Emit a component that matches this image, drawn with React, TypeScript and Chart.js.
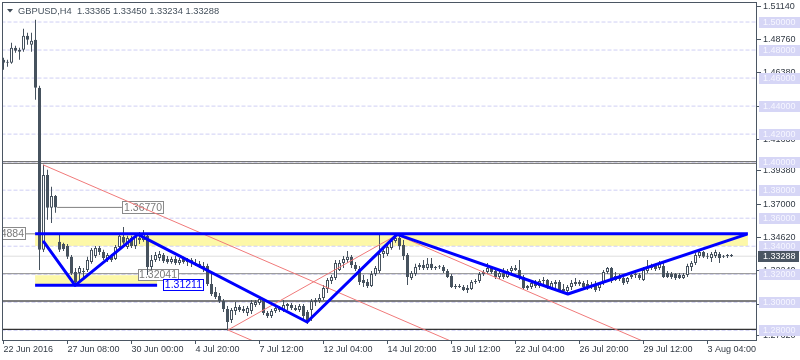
import React, { useEffect, useRef } from "react";
import { Chart, registerables } from "chart.js";

Chart.register(...registerables);

const symbol = "GBPUSD";
const timeframe = "H4";

// H4 candles, bar index 0 .. 182
const opens = [
  1.4731, 1.4709, 1.4709, 1.4816, 1.4802, 1.4802, 1.4902, 1.4838, 1.4874, 1.4531, // 0
  1.3374, 1.3909, 1.3674, 1.3759, 1.3431, 1.3416, 1.3402, 1.3324, 1.3216, 1.3209, // 10
  1.3216, 1.3231, 1.3288, 1.3331, 1.3388, 1.3359, 1.3309, 1.3338, 1.3309, 1.3395, // 20
  1.3466, 1.3395, 1.3459, 1.3402, 1.3459, 1.3445, 1.3474, 1.3252, 1.3302, 1.3316, // 30
  1.3338, 1.3309, 1.3288, 1.3309, 1.3281, 1.3309, 1.3288, 1.3302, 1.3281, 1.3274, // 40
  1.3259, 1.3259, 1.3131, 1.3074, 1.3045, 1.3009, 1.2952, 1.2874, 1.2938, 1.2966, // 50
  1.2952, 1.2924, 1.2938, 1.2981, 1.2995, 1.3016, 1.2924, 1.2902, 1.2938, 1.2959, // 60
  1.2945, 1.2974, 1.2981, 1.2959, 1.2945, 1.2974, 1.2931, 1.2945, 1.3002, 1.3009, // 70
  1.3031, 1.3095, 1.3152, 1.3174, 1.3231, 1.3281, 1.3302, 1.3324, 1.3266, 1.3238, // 80
  1.3159, 1.3145, 1.3116, 1.3202, 1.3224, 1.3345, 1.3345, 1.3388, 1.3438, 1.3459, // 90
  1.3409, 1.3338, 1.3174, 1.3202, 1.3252, 1.3266, 1.3245, 1.3274, 1.3245, 1.3252, // 100
  1.3252, 1.3224, 1.3188, 1.3109, 1.3116, 1.3109, 1.3102, 1.3095, 1.3145, 1.3152, // 110
  1.3202, 1.3216, 1.3245, 1.3224, 1.3181, 1.3209, 1.3181, 1.3224, 1.3245, 1.3231, // 120
  1.3181, 1.3102, 1.3109, 1.3138, 1.3116, 1.3152, 1.3159, 1.3102, 1.3131, 1.3145, // 130
  1.3095, 1.3081, 1.3109, 1.3131, 1.3145, 1.3138, 1.3131, 1.3124, 1.3131, 1.3102, // 140
  1.3138, 1.3216, 1.3245, 1.3188, 1.3166, 1.3174, 1.3145, 1.3181, 1.3195, 1.3195, // 150
  1.3159, 1.3224, 1.3245, 1.3259, 1.3245, 1.3259, 1.3209, 1.3202, 1.3202, 1.3195, // 160
  1.3174, 1.3195, 1.3252, 1.3281, 1.3331, 1.3359, 1.3331, 1.3316, 1.3331, 1.3345, // 170
  1.3324, 1.3331, 1.33365, // 180
];
const highs = [
  1.4745, 1.4731, 1.4852, 1.4831, 1.4816, 1.4952, 1.4924, 1.4924, 1.5016, 1.4545, // 0
  1.3981, 1.3945, 1.3824, 1.3766, 1.3488, 1.3424, 1.3416, 1.3338, 1.3245, 1.3259, // 10
  1.3245, 1.3324, 1.3388, 1.3402, 1.3402, 1.3374, 1.3352, 1.3345, 1.3409, 1.3495, // 20
  1.3538, 1.3474, 1.3474, 1.3488, 1.3502, 1.3516, 1.3488, 1.3338, 1.3359, 1.3366, // 30
  1.3352, 1.3331, 1.3324, 1.3331, 1.3316, 1.3324, 1.3316, 1.3316, 1.3309, 1.3295, // 40
  1.3288, 1.3274, 1.3216, 1.3109, 1.3066, 1.3024, 1.2974, 1.2959, 1.3002, 1.2981, // 50
  1.2974, 1.2974, 1.3016, 1.3016, 1.3038, 1.3024, 1.2938, 1.2952, 1.2974, 1.2974, // 60
  1.3016, 1.2995, 1.2995, 1.2981, 1.2988, 1.2988, 1.2945, 1.3024, 1.3031, 1.3059, // 70
  1.3124, 1.3174, 1.3195, 1.3302, 1.3302, 1.3331, 1.3366, 1.3338, 1.3288, 1.3259, // 80
  1.3195, 1.3166, 1.3224, 1.3259, 1.3481, 1.3402, 1.3409, 1.3452, 1.3488, 1.3474, // 90
  1.3445, 1.3352, 1.3224, 1.3274, 1.3281, 1.3302, 1.3316, 1.3316, 1.3259, 1.3266, // 100
  1.3266, 1.3238, 1.3202, 1.3131, 1.3131, 1.3124, 1.3124, 1.3159, 1.3166, 1.3216, // 110
  1.3231, 1.3281, 1.3259, 1.3245, 1.3231, 1.3245, 1.3238, 1.3259, 1.3266, 1.3302, // 120
  1.3195, 1.3124, 1.3152, 1.3159, 1.3166, 1.3181, 1.3166, 1.3152, 1.3159, 1.3159, // 130
  1.3131, 1.3124, 1.3159, 1.3174, 1.3159, 1.3152, 1.3159, 1.3145, 1.3152, 1.3138, // 140
  1.3231, 1.3252, 1.3252, 1.3216, 1.3202, 1.3188, 1.3181, 1.3216, 1.3224, 1.3209, // 150
  1.3252, 1.3302, 1.3274, 1.3274, 1.3295, 1.3281, 1.3224, 1.3216, 1.3209, 1.3209, // 160
  1.3209, 1.3274, 1.3295, 1.3352, 1.3374, 1.3366, 1.3352, 1.3359, 1.3374, 1.3359, // 170
  1.3338, 1.3345, 1.3345, // 180
];
const lows = [
  1.4659, 1.4681, 1.4702, 1.4781, 1.4731, 1.4788, 1.4838, 1.4788, 1.4445, 1.3231, // 0
  1.3359, 1.3588, 1.3566, 1.3638, 1.3359, 1.3366, 1.3309, 1.3195, 1.3121, 1.3138, // 10
  1.3181, 1.3216, 1.3274, 1.3316, 1.3338, 1.3302, 1.3288, 1.3288, 1.3302, 1.3381, // 20
  1.3416, 1.3381, 1.3388, 1.3381, 1.3416, 1.3431, 1.3195, 1.3231, 1.3288, 1.3295, // 30
  1.3281, 1.3274, 1.3274, 1.3266, 1.3266, 1.3274, 1.3259, 1.3252, 1.3259, 1.3245, // 40
  1.3216, 1.3116, 1.3045, 1.3024, 1.2995, 1.2931, 1.2798, 1.2852, 1.2909, 1.2931, // 50
  1.2924, 1.2902, 1.2916, 1.2966, 1.2981, 1.2909, 1.2888, 1.2888, 1.2924, 1.2931, // 60
  1.2931, 1.2945, 1.2945, 1.2938, 1.2931, 1.2881, 1.2845, 1.2866, 1.2974, 1.2995, // 70
  1.3016, 1.3066, 1.3131, 1.3159, 1.3224, 1.3245, 1.3281, 1.3245, 1.3224, 1.3124, // 80
  1.3109, 1.3102, 1.3109, 1.3188, 1.3209, 1.3316, 1.3331, 1.3374, 1.3424, 1.3374, // 90
  1.3302, 1.3124, 1.3159, 1.3188, 1.3231, 1.3231, 1.3231, 1.3231, 1.3231, 1.3238, // 100
  1.3209, 1.3174, 1.3102, 1.3095, 1.3102, 1.3081, 1.3066, 1.3088, 1.3131, 1.3138, // 110
  1.3188, 1.3202, 1.3202, 1.3166, 1.3166, 1.3166, 1.3174, 1.3209, 1.3224, 1.3159, // 120
  1.3088, 1.3088, 1.3095, 1.3102, 1.3102, 1.3109, 1.3095, 1.3088, 1.3081, 1.3074, // 130
  1.3074, 1.3059, 1.3088, 1.3116, 1.3116, 1.3095, 1.3088, 1.3095, 1.3074, 1.3081, // 140
  1.3124, 1.3202, 1.3138, 1.3152, 1.3152, 1.3124, 1.3131, 1.3166, 1.3174, 1.3159, // 150
  1.3152, 1.3209, 1.3231, 1.3224, 1.3231, 1.3174, 1.3174, 1.3166, 1.3159, 1.3166, // 160
  1.3166, 1.3181, 1.3224, 1.3266, 1.3316, 1.3316, 1.3309, 1.3288, 1.3316, 1.3281, // 170
  1.3316, 1.3316, 1.33234, // 180
];
const closes = [
  1.4709, 1.4717, 1.4816, 1.4795, 1.4788, 1.4902, 1.4874, 1.4866, 1.4531, 1.3374, // 0
  1.3909, 1.3674, 1.3759, 1.3677, 1.3374, 1.3381, 1.3324, 1.3209, 1.3145, 1.3245, // 10
  1.3224, 1.3302, 1.3374, 1.3388, 1.3359, 1.3316, 1.3338, 1.3302, 1.3395, 1.3474, // 20
  1.3424, 1.3459, 1.3402, 1.3466, 1.3445, 1.3488, 1.3252, 1.3302, 1.3338, 1.3345, // 30
  1.3295, 1.3288, 1.3309, 1.3281, 1.3302, 1.3288, 1.3302, 1.3281, 1.3266, 1.3259, // 40
  1.3245, 1.3131, 1.3059, 1.3038, 1.3009, 1.2952, 1.2859, 1.2945, 1.2966, 1.2945, // 50
  1.2938, 1.2959, 1.2995, 1.3002, 1.3024, 1.2924, 1.2902, 1.2938, 1.2959, 1.2945, // 60
  1.2981, 1.2988, 1.2959, 1.2945, 1.2974, 1.2902, 1.2866, 1.3009, 1.3016, 1.3031, // 70
  1.3102, 1.3159, 1.3181, 1.3281, 1.3281, 1.3309, 1.3324, 1.3266, 1.3238, 1.3145, // 80
  1.3138, 1.3116, 1.3202, 1.3245, 1.3345, 1.3366, 1.3395, 1.3438, 1.3459, 1.3402, // 90
  1.3331, 1.3181, 1.3209, 1.3252, 1.3266, 1.3245, 1.3274, 1.3245, 1.3252, 1.3250, // 100
  1.3224, 1.3181, 1.3109, 1.3116, 1.3109, 1.3088, 1.3088, 1.3145, 1.3152, 1.3202, // 110
  1.3216, 1.3245, 1.3216, 1.3181, 1.3209, 1.3181, 1.3224, 1.3245, 1.3231, 1.3174, // 120
  1.3102, 1.3116, 1.3138, 1.3116, 1.3152, 1.3159, 1.3102, 1.3138, 1.3145, 1.3088, // 130
  1.3081, 1.3109, 1.3138, 1.3145, 1.3131, 1.3109, 1.3102, 1.3109, 1.3088, 1.3131, // 140
  1.3216, 1.3245, 1.3152, 1.3159, 1.3188, 1.3138, 1.3174, 1.3195, 1.3202, 1.3174, // 150
  1.3231, 1.3252, 1.3259, 1.3238, 1.3281, 1.3181, 1.3181, 1.3181, 1.3174, 1.3174, // 160
  1.3195, 1.3259, 1.3281, 1.3338, 1.3359, 1.3324, 1.3324, 1.3345, 1.3359, 1.3316, // 170
  1.3327, 1.3334, 1.33288, // 180
];

// axis ticks
const xTickBars = [0, 16, 32, 48, 64, 80, 96, 112, 128, 144, 160, 176];
const xTickLabels = [
  "22 Jun 2016", "27 Jun 08:00", "30 Jun 00:00", "4 Jul 20:00", "7 Jul 12:00", "12 Jul 04:00",
  "14 Jul 20:00", "19 Jul 12:00", "22 Jul 04:00", "26 Jul 20:00", "29 Jul 12:00", "3 Aug 04:00",
];
const yTickValues = [1.5114, 1.4876, 1.4638, 1.44, 1.4163, 1.3938, 1.37, 1.3462, 1.3224, 1.2986, 1.2762];
const levelPrices = [1.5, 1.48, 1.46, 1.44, 1.42, 1.4, 1.38, 1.36, 1.34, 1.32, 1.3, 1.28];

// drawn objects
const zigzagBars = [9.9, 17.9, 33.6, 75.9, 98.4, 141.1, 185.9];
const zigzagPrices = [1.3438, 1.3121, 1.3484, 1.2859, 1.3484, 1.3059, 1.3486];
const resistancePrice = 1.34884;
const supportPrice = 1.31211;
const upperZoneBars = [7.9, 186.1];
const upperZonePrices = [1.3402, 1.34884];
const lowerZoneBars = [7.9, 38.4];
const lowerZonePrices = [1.31211, 1.3193];
const redLineBars = [[9.9, 112], [56.1, 70], [56.1, 98.4], [98.4, 165]];
const redLinePrices = [[1.3981, 1.2721], [1.2802, 1.263], [1.2802, 1.3481], [1.3481, 1.2659]];
const weekCloseBars = [13.4, 29.6];
const weekClosePrice = 1.3677;
const doubleLevelPrices = [1.4004, 1.3991];
const prevLowPrice = 1.32041;
const blackLevelPrices = [1.3009, 1.2807];
const lastPrice = closes[closes.length - 1];

const X_MIN = -0.125;
const X_MAX = 188.375;
const Y_MIN = 1.27307;
const Y_MAX = 1.51429;

const AXIS_FONT = '9px "Liberation Sans", Arial, sans-serif';
const OBJ_FONT = '10.5px "Liberation Sans", Arial, sans-serif';
const DARK = "#46525e";

function seg(xs: number[], ys: number[], color: string, width: number, order: number, extra: any = {}) {
  return {
    type: "line",
    data: xs.map((x, i) => ({ x, y: ys[i] })),
    borderColor: color,
    borderWidth: width,
    pointRadius: 0,
    fill: false,
    order,
    clip: 0,
    ...extra,
  };
}

function labelBox(ctx: CanvasRenderingContext2D, text: string, x: number, yc: number, w: number, h: number, stroke: string, color: string) {
  const top = Math.round(yc - h / 2);
  const left = Math.round(x);
  ctx.fillStyle = "#ffffff";
  ctx.fillRect(left, top, w, h);
  ctx.strokeStyle = stroke;
  ctx.lineWidth = 1;
  ctx.strokeRect(left + 0.5, top + 0.5, w - 1, h - 1);
  ctx.fillStyle = color;
  ctx.font = OBJ_FONT;
  ctx.textBaseline = "middle";
  ctx.textAlign = "right";
  ctx.fillText(text, left + w - 2, top + h / 2 + 0.5);
}

const overlayPlugin = {
  id: "mt4overlay",
  afterDatasetDraw(chart: any, args: any) {
    const ds = chart.data.datasets[args.index];
    if (ds.label !== "labels-anchor") return;
    const ctx: CanvasRenderingContext2D = chart.ctx;
    const xs = chart.scales.x;
    const ys = chart.scales.y;
    const area = chart.chartArea;
    ctx.save();
    ctx.beginPath();
    ctx.rect(area.left, area.top, area.right - area.left, area.bottom - area.top);
    ctx.clip();
    labelBox(ctx, weekClosePrice.toFixed(5), xs.getPixelForValue(weekCloseBars[1]), ys.getPixelForValue(weekClosePrice), 42, 13, "#8a8a8a", "#7a7a7a");
    labelBox(ctx, resistancePrice.toFixed(5), xs.getPixelForValue(5.7) - 42, ys.getPixelForValue(resistancePrice), 42, 13, "#8a8a8a", "#7a7a7a");
    labelBox(ctx, prevLowPrice.toFixed(5), xs.getPixelForValue(33.7), ys.getPixelForValue(prevLowPrice) + 1, 41, 12, "#8a8a8a", "#7a7a7a");
    labelBox(ctx, supportPrice.toFixed(5), xs.getPixelForValue(39.9), ys.getPixelForValue(supportPrice), 41, 12, "#0000ff", "#0000ff");
    ctx.restore();
  },
  afterDraw(chart: any) {
    const ctx: CanvasRenderingContext2D = chart.ctx;
    const area = chart.chartArea;
    const ys = chart.scales.y;
    ctx.save();
    // frame
    ctx.strokeStyle = "#4b5663";
    ctx.lineWidth = 1;
    ctx.strokeRect(Math.round(area.left) - 0.5, Math.round(area.top) + 0.5, Math.round(area.right - area.left), Math.round(area.bottom - area.top));
    // level price boxes on the right axis
    ctx.font = AXIS_FONT;
    ctx.textBaseline = "middle";
    ctx.textAlign = "left";
    const bx = Math.round(area.right) + 2;
    levelPrices.forEach((p) => {
      const y = Math.round(ys.getPixelForValue(p));
      ctx.fillStyle = "#d6d6f6";
      ctx.fillRect(bx, y - 5, 41, 11);
      ctx.fillStyle = "#f6f6ff";
      ctx.fillText(p.toFixed(5), bx + 4, y + 0.5);
    });
    const yl = Math.round(ys.getPixelForValue(lastPrice));
    ctx.fillStyle = "#4a5562";
    ctx.fillRect(bx - 1, yl - 5, 41, 11);
    ctx.fillStyle = "#ffffff";
    ctx.fillText(lastPrice.toFixed(5), bx + 4, yl + 0.5);
    // title
    ctx.fillStyle = "#3d4955";
    ctx.beginPath();
    ctx.moveTo(7, 9);
    ctx.lineTo(13, 9);
    ctx.lineTo(10, 12.5);
    ctx.closePath();
    ctx.fill();
    const n = closes.length - 1;
    ctx.font = '9.3px "Liberation Sans", Arial, sans-serif';
    ctx.fillStyle = "#44505c";
    ctx.fillText(
      `${symbol},${timeframe}  ${opens[n].toFixed(5)} ${highs[n].toFixed(5)} ${lows[n].toFixed(5)} ${closes[n].toFixed(5)}`,
      18,
      11
    );
    ctx.restore();
  },
};

export default function App() {
  const ref = useRef<HTMLCanvasElement | null>(null);
  useEffect(() => {
    if (!ref.current) return;
    const bull = closes.map((c, i) => c >= opens[i]);
    const full = [-2, 192];
    const datasets: any[] = [
      seg(upperZoneBars, [upperZonePrices[1], upperZonePrices[1]], "rgba(0,0,0,0)", 0, 100, {
        fill: { value: upperZonePrices[0] },
        backgroundColor: "#fdf8a8",
      }),
      seg(lowerZoneBars, [lowerZonePrices[1], lowerZonePrices[1]], "rgba(0,0,0,0)", 0, 100, {
        fill: { value: lowerZonePrices[0] },
        backgroundColor: "#fdf8a8",
      }),
      ...levelPrices.map((p) => seg(full, [p, p], "#cfcff4", 1, 90, { borderDash: [4, 2] })),
      ...doubleLevelPrices.map((p) => seg(full, [p, p], "#6e6e6e", 1, 80)),
      seg(full, [prevLowPrice, prevLowPrice], "#8c8c8c", 1, 80),
      seg(full, [lastPrice, lastPrice], "#dedede", 1, 80),
      ...blackLevelPrices.map((p) => seg(full, [p, p], "#000000", 1, 80)),
      seg(weekCloseBars, [weekClosePrice, weekClosePrice], "#808080", 1, 80),
      seg([5.4, 7.9], [resistancePrice, resistancePrice], "#808080", 1, 80),
      { type: "line", label: "labels-anchor", data: [], order: 75, pointRadius: 0 },
      {
        type: "bar",
        label: "wicks",
        data: highs.map((h, i) => ({ x: i, y: [lows[i], h] })),
        backgroundColor: DARK,
        borderWidth: 0,
        barThickness: 1,
        grouped: false,
        inflateAmount: 0,
        minBarLength: 1,
        order: 60,
      },
      {
        type: "bar",
        label: "bodies",
        data: opens.map((o, i) => ({ x: i, y: [Math.min(o, closes[i]), Math.max(o, closes[i])] })),
        backgroundColor: bull.map((b) => (b ? "#ffffff" : DARK)),
        borderColor: DARK,
        borderWidth: 1,
        borderSkipped: false,
        barThickness: 3,
        grouped: false,
        inflateAmount: 0,
        minBarLength: 1,
        order: 55,
      },
      ...redLineBars.map((b, i) => seg(b, redLinePrices[i], "#f07a7a", 1, 45)),
      seg(upperZoneBars, [resistancePrice, resistancePrice], "#0000ff", 3, 30),
      seg(lowerZoneBars, [supportPrice, supportPrice], "#0000ff", 3, 30),
      seg(zigzagBars, zigzagPrices, "#0000ff", 3, 30, { borderJoinStyle: "round" }),
    ];

    const chart = new Chart(ref.current, {
      type: "bar",
      data: { datasets },
      options: {
        animation: false,
        responsive: false,
        devicePixelRatio: 1,
        events: [],
        layout: { padding: { left: 3, top: 2, right: 0, bottom: 0 } },
        plugins: { legend: { display: false }, tooltip: { enabled: false }, title: { display: false } },
        scales: {
          x: {
            type: "linear",
            min: X_MIN,
            max: X_MAX,
            offset: false,
            grid: { drawOnChartArea: false, drawTicks: true, tickLength: 4, tickColor: "#4b5663", offset: false },
            border: { display: false },
            afterBuildTicks: (s: any) => {
              s.ticks = xTickBars.map((v) => ({ value: v }));
            },
            afterFit: (s: any) => {
              s.height = 20;
              s.paddingLeft = 0;
              s.paddingRight = 0;
            },
            ticks: {
              autoSkip: false,
              maxRotation: 0,
              minRotation: 0,
              align: "start",
              padding: 0,
              color: "#333b45",
              font: { family: '"Liberation Sans", Arial, sans-serif', size: 9 },
              callback: (_v: any, i: number) => xTickLabels[i],
            },
          },
          y: {
            type: "linear",
            position: "right",
            min: Y_MIN,
            max: Y_MAX,
            beginAtZero: false,
            grid: { drawOnChartArea: false, drawTicks: true, tickLength: 4, tickColor: "#4b5663" },
            border: { display: false },
            afterBuildTicks: (s: any) => {
              s.ticks = yTickValues.map((v) => ({ value: v }));
            },
            afterFit: (s: any) => {
              s.width = 43;
              s.paddingTop = 0;
              s.paddingBottom = 0;
            },
            ticks: {
              autoSkip: false,
              padding: 2,
              color: "#333b45",
              font: { family: '"Liberation Sans", Arial, sans-serif', size: 9 },
              callback: (v: any) => Number(v).toFixed(5),
            },
          },
        },
      } as any,
      plugins: [overlayPlugin as any],
    } as any);
    return () => chart.destroy();
  }, []);

  return (
    <div style={{ position: "fixed", left: 0, top: 0, width: 800, height: 360, background: "#ffffff" }}>
      <canvas ref={ref} width={800} height={360} style={{ display: "block", width: 800, height: 360 }} />
    </div>
  );
}
